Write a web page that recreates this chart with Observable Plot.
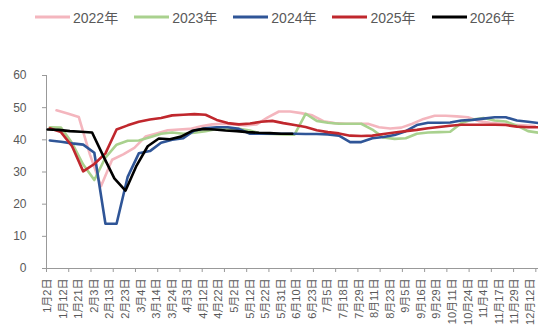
<!DOCTYPE html>
<html>
<head>
<meta charset="utf-8">
<script src="https://cdn.jsdelivr.net/npm/d3@7"></script>
<script src="https://cdn.jsdelivr.net/npm/@observablehq/plot@0.6"></script>
<style>
  body { margin: 0; background: #fff; }
  #wrap { position: relative; width: 538px; height: 332px; overflow: hidden; background: #fff;
          font-family: "Liberation Sans", "Noto Sans CJK SC", sans-serif; }
  #legend { position: absolute; top: 7px; left: 35px; display: flex; gap: 16px; font-size: 14px; color: #595959; white-space: nowrap; }
  .item { display: flex; align-items: center; }
  .item svg { margin-right: 3px; }
  #chart { position: absolute; top: 0; left: 0; }
</style>
</head>
<body>
<div id="wrap"><div id="chart"></div><div id="legend"></div></div>
<script>
// ---- data ----
const years = ["2022年", "2023年", "2024年", "2025年", "2026年"];
const colors = ["#F4B6BE", "#A9D18E", "#2F5597", "#C0272D", "#000000"];
const xLabels = ["1月2日","1月12日","1月21日","2月3日","2月13日","2月23日","3月4日","3月14日","3月24日","4月3日",
  "4月12日","4月22日","5月2日","5月12日","5月22日","5月31日","6月10日","6月23日","7月5日","7月18日",
  "7月29日","8月11日","8月23日","9月5日","9月16日","9月29日","10月11日","10月24日","11月4日","11月17日",
  "11月29日","12月12日"];
const yTicks = [0, 10, 20, 30, 40, 50, 60];
// first category index of each series (weekly data, 5 categories apart)
const startIndex = [4, 1, 1, 1, 0];
const v2022 = [49.2,48.2,47.1,35.5,25.6,33.8,35.5,37.5,41.0,42.0,43.0,43.2,43.4,44.2,44.8,45.0,44.8,44.5,44.8,47.0,
  48.8,48.8,48.3,47.6,45.8,45.2,45.0,45.0,45.0,43.9,43.5,43.8,45.0,46.5,47.5,47.5,47.3,47.0,45.8,45.3,
  45.0,44.7,44.5,44.3];
const v2023 = [43.9,43.8,39.0,32.3,27.5,34.5,38.5,39.7,39.8,40.8,41.9,42.3,41.9,42.2,42.7,43.4,43.4,43.4,42.9,41.9,
  41.8,41.7,41.6,48.1,45.9,45.3,45.0,45.0,45.0,43.2,40.7,40.3,40.5,41.9,42.3,42.4,42.5,45.2,46.3,46.8,
  46.0,45.7,44.4,42.7,42.2];
const v2024 = [39.8,39.4,38.9,38.5,36.0,13.9,13.9,28.5,35.8,36.5,39.1,40.0,40.5,42.9,43.6,43.9,43.9,43.4,41.9,41.9,
  41.9,41.9,41.9,41.8,41.8,41.7,41.3,39.3,39.3,40.5,40.9,41.5,42.7,44.6,45.3,45.3,45.4,46.0,46.2,46.6,
  47.0,47.0,46.0,45.6,45.2];
const v2025 = [43.6,42.4,38.0,30.2,32.5,35.8,43.2,44.5,45.6,46.3,46.8,47.6,47.8,48.0,47.8,46.2,45.2,44.8,45.1,45.6,
  45.9,45.2,44.6,44.0,43.0,42.4,42.0,41.3,41.2,41.3,41.8,42.3,42.7,43.1,43.6,44.0,44.4,44.7,44.7,44.7,
  44.7,44.6,44.1,43.9,43.9];
const v2026 = [43.2,43.1,42.7,42.5,42.3,35.0,28.0,24.2,32.0,38.0,40.4,40.2,41.0,42.8,43.4,43.2,42.9,42.7,42.4,42.2,
  42.1,41.9,41.9];
const seriesValues = [v2022, v2023, v2024, v2025, v2026];

// ---- table for Plot ----
const rows = [];
seriesValues.forEach((vals, si) => vals.forEach((v, k) => rows.push({year: years[si], x: startIndex[si] + 5 * k, y: v})));
const labelTicks = xLabels.map((_, m) => 7 * m);
const boundaryTicks = d3.range(0, 23).map(k => -0.5 + 10 * k);

const chart = Plot.plot({
  width: 538, height: 332,
  marginTop: 75, marginBottom: 64, marginLeft: 46, marginRight: 0,
  style: {fontFamily: '"Liberation Sans", "Noto Sans CJK SC", sans-serif', background: "#fff", color: "#595959"},
  x: {domain: [-0.5, 220.7]},
  y: {domain: [0, 60]},
  color: {domain: years, range: colors},
  marks: [
    Plot.ruleX([-0.5], {stroke: "#999"}),
    Plot.ruleY([0], {stroke: "#999"}),
    Plot.axisY({ticks: yTicks, tickSize: 4, tickPadding: 16, fontSize: 12, stroke: "#999", fill: "#595959", label: null}),
    Plot.axisX({ticks: boundaryTicks, tickSize: 4, tickFormat: () => "", stroke: "#999", label: null}),
    Plot.axisX({ticks: labelTicks, tickSize: 0, tickPadding: 10, tickRotate: -90, fontSize: 11,
                tickFormat: i => xLabels[Math.round(i / 7)], fill: "#595959", label: null}),
    Plot.lineY(rows, {x: "x", y: "y", z: "year", stroke: "year", strokeWidth: 2.6})
  ]
});
document.getElementById("chart").appendChild(chart);

// ---- legend ----
const legend = document.getElementById("legend");
years.forEach((y, i) => {
  const it = document.createElement("div");
  it.className = "item";
  it.innerHTML = `<svg width="35" height="6"><line x1="0" x2="35" y1="3" y2="3" stroke="${colors[i]}" stroke-width="3"/></svg><span>${y}</span>`;
  legend.appendChild(it);
});
</script>
</body>
</html>
